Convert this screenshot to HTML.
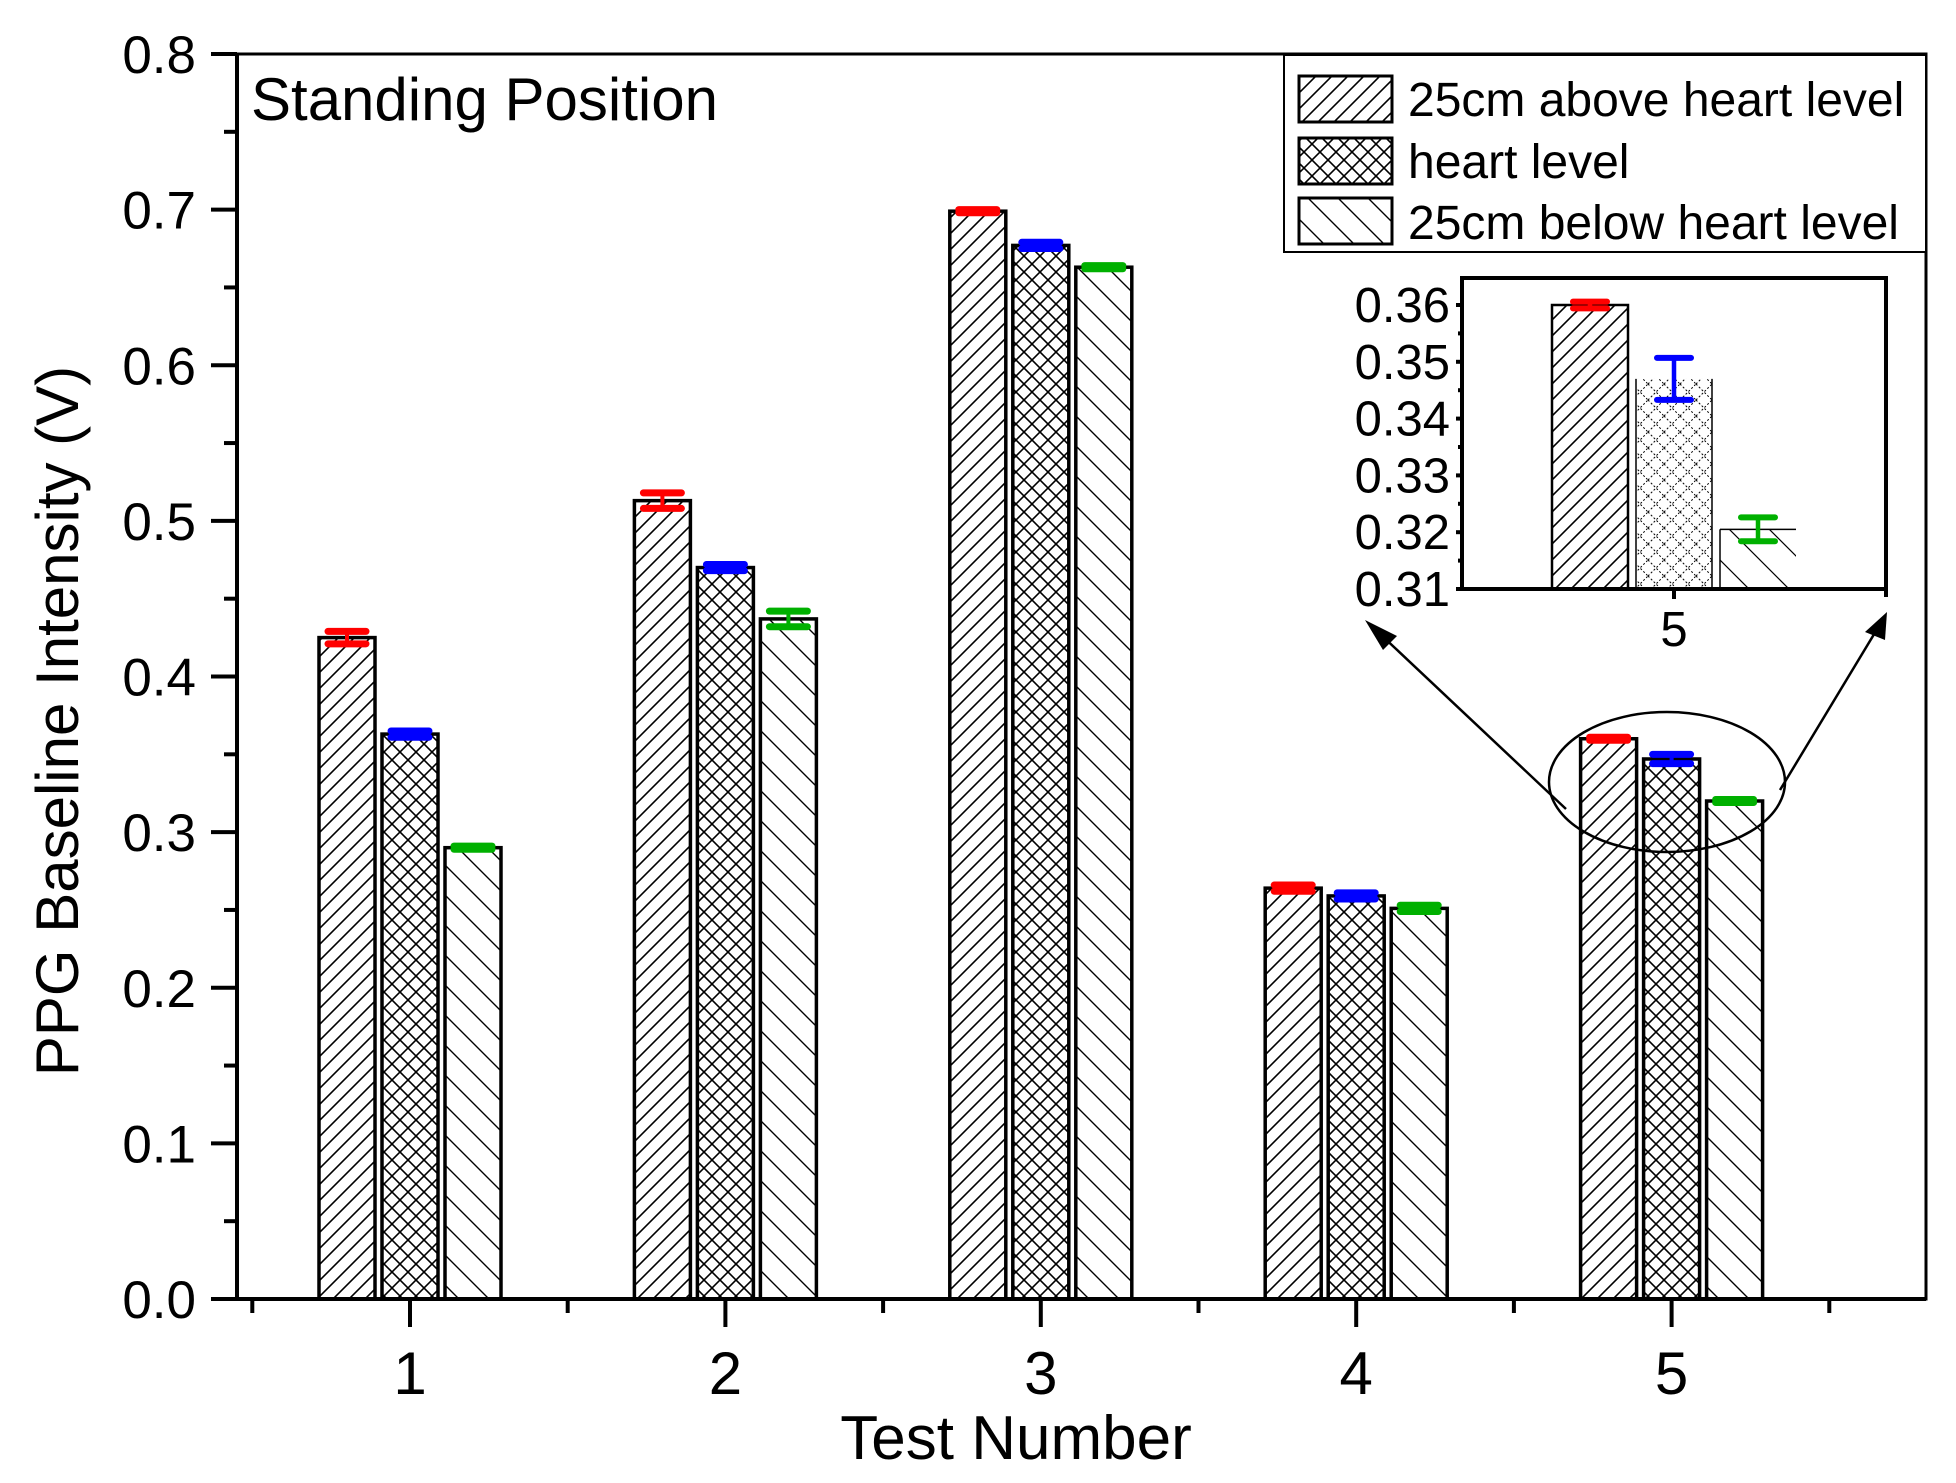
<!DOCTYPE html>
<html><head><meta charset="utf-8"><style>
html,body{margin:0;padding:0;background:#fff}
svg{display:block}
text{font-family:"Liberation Sans",Arial,sans-serif;fill:#000}
</style></head><body>
<svg id="chart" width="1956" height="1483" viewBox="0 0 1956 1483" xmlns="http://www.w3.org/2000/svg">
<defs>
<pattern id="pFwd" patternUnits="userSpaceOnUse" width="16" height="16"><path d="M-4,4 L4,-4 M0,16 L16,0 M12,20 L20,12" stroke="#000" stroke-width="1.6"/></pattern>
<pattern id="pCross" patternUnits="userSpaceOnUse" width="16" height="16"><path d="M0,16 L16,0 M0,0 L16,16" stroke="#000" stroke-width="1.6"/></pattern>
<pattern id="pBack" patternUnits="userSpaceOnUse" width="30" height="30"><path d="M-6,-6 L36,36 M-36,-6 L6,36 M24,-6 L66,36" stroke="#000" stroke-width="1.4"/></pattern>
<pattern id="pCrossDot" patternUnits="userSpaceOnUse" width="16" height="16"><path d="M0,16 L16,0 M0,0 L16,16" stroke="#000" stroke-width="1" stroke-dasharray="2,2"/></pattern>
<pattern id="pBackI" patternUnits="userSpaceOnUse" width="40" height="40"><path d="M-6,-6 L46,46 M-46,-6 L6,46 M34,-6 L86,46" stroke="#000" stroke-width="1.2"/></pattern>
</defs>
<g id="main"></g>
<g id="inset"></g>
</svg>
<script>
const categories = ["1","2","3","4","5"];
const seriesNames = ["25cm above heart level","heart level","25cm below heart level"];
const above = [0.425, 0.513, 0.699, 0.264, 0.360];
const heart = [0.363, 0.470, 0.677, 0.259, 0.347];
const below = [0.290, 0.437, 0.663, 0.251, 0.320];
const errAbove = [0.004, 0.005, 0.001, 0.002, 0.001];
const errHeart = [0.002, 0.002, 0.002, 0.002, 0.003];
const errBelow = [0.001, 0.005, 0.001, 0.002, 0.001];
const yTicks = ["0.0","0.1","0.2","0.3","0.4","0.5","0.6","0.7","0.8"];
const insetValues = [0.360, 0.347, 0.3205];
const insetErrors = [0.0006, 0.0037, 0.0021];
const insetTicks = ["0.31","0.32","0.33","0.34","0.35","0.36"];

const NS="http://www.w3.org/2000/svg";
function mk(parent,tag,attrs,txt){const e=document.createElementNS(NS,tag);for(const k in attrs)e.setAttribute(k,attrs[k]);if(txt!==undefined)e.textContent=txt;parent.appendChild(e);return e;}

const main=document.getElementById('main');
const X0=237,X1=1926,Y0=1299,Y1=54;
const SP=315.4;
const yScale=v=>Y0-(v/0.8)*(Y0-Y1);
const xCat=i=>410+i*SP;
const colors=["#ff0000","#0000ff","#00b000"];
const fills=["url(#pFwd)","url(#pCross)","url(#pBack)"];
const series=[above,heart,below];
const errs=[errAbove,errHeart,errBelow];

let fr=mk(main,'rect',{x:X0,y:Y1,width:X1-X0,height:Y0-Y1,fill:'none',stroke:'#000','stroke-width':3});

let xa=mk(main,'line',{x1:211,y1:Y0,x2:X1,y2:Y0,stroke:'#000','stroke-width':4});

let ya=mk(main,'line',{x1:X0,y1:Y1,x2:X0,y2:Y0,stroke:'#000','stroke-width':4});


yTicks.forEach((t,i)=>{
  const v=parseFloat(t);const y=yScale(v);
  mk(main,'line',{x1:211,y1:y,x2:X0,y2:y,stroke:'#000','stroke-width':4});
  if(i<yTicks.length-1){const ym=yScale(v+0.05);mk(main,'line',{x1:224,y1:ym,x2:X0,y2:ym,stroke:'#000','stroke-width':4});}
  const tl=mk(main,'text',{x:196,y:y+19,'font-size':53,'text-anchor':'end'},t);
  
});
categories.forEach((c,i)=>{
  const x=xCat(i);
  mk(main,'line',{x1:x,y1:Y0,x2:x,y2:1327,stroke:'#000','stroke-width':4});
  const xm=x-SP/2;mk(main,'line',{x1:xm,y1:Y0,x2:xm,y2:1313,stroke:'#000','stroke-width':4});
  const tl=mk(main,'text',{x:x,y:1394,'font-size':60,'text-anchor':'middle'},c);
  
});
mk(main,'line',{x1:xCat(4)+SP/2,y1:Y0,x2:xCat(4)+SP/2,y2:1313,stroke:'#000','stroke-width':4});

const BW=56,PITCH=63;
series.forEach((arr,s)=>{
  arr.forEach((v,i)=>{
    const cx=xCat(i)+(s-1)*PITCH;const y=yScale(v);
    const b=mk(main,'rect',{x:cx-BW/2,y:y,width:BW,height:Y0-y,fill:fills[s],stroke:'#000','stroke-width':3.5});
    
    
    const e=errs[s][i];const yt=yScale(v+e),yb=yScale(v-e);
    const g=mk(main,'g',{stroke:colors[s],'stroke-width':7,'stroke-linecap':'round'});
    
    mk(g,'line',{x1:cx-19,y1:yt,x2:cx+19,y2:yt});
    mk(g,'line',{x1:cx-19,y1:yb,x2:cx+19,y2:yb});
    mk(g,'line',{x1:cx,y1:yt,x2:cx,y2:yb,'stroke-width':4});
  });
});

let tt=mk(main,'text',{x:251,y:120,'font-size':60},'Standing Position');

let yt=mk(main,'text',{x:0,y:0,'font-size':60,'text-anchor':'middle',transform:'translate(78,721) rotate(-90)'},'PPG Baseline Intensity (V)');

let xt=mk(main,'text',{x:1016,y:1459,'font-size':62,'text-anchor':'middle'},'Test Number');


const lg=mk(main,'g',{});

mk(lg,'rect',{x:1284,y:55,width:642,height:197,fill:'#fff',stroke:'#000','stroke-width':2});
const swY=[76,138,198];const txY=[116,178,239];
seriesNames.forEach((n,s)=>{
  const le=mk(lg,'g',{});
  
  mk(le,'rect',{x:1299,y:swY[s],width:93,height:46,fill:fills[s],stroke:'#000','stroke-width':3});
  mk(le,'text',{x:1408,y:txY[s],'font-size':48},n);
});

const zo=mk(main,'g',{fill:'none',stroke:'#000','stroke-width':2.5});

mk(zo,'ellipse',{cx:1667,cy:782,rx:118,ry:70});
mk(zo,'line',{x1:1566,y1:809,x2:1378,y2:632});
mk(zo,'line',{x1:1780,y1:790,x2:1879,y2:626});
mk(main,'polygon',{points:'1365,620 1397,636 1383,650',fill:'#000'});
mk(main,'polygon',{points:'1887,612 1865,632 1885,640',fill:'#000'});

const ins=document.getElementById('inset');

const IX0=1462,IX1=1886,IY0=589,IY1=278;
const iy=v=>IY0-(v-0.31)/0.01*56.8;
mk(ins,'rect',{x:IX0,y:IY1,width:IX1-IX0,height:IY0-IY1,fill:'#fff',stroke:'none'});
const ifills=["url(#pFwd)","url(#pCrossDot)","url(#pBackI)"];
const IBW=76,IP=84,ICX=1674;
insetValues.forEach((v,s)=>{
  const cx=ICX+(s-1)*IP;const y=iy(v);
  const b=mk(ins,'rect',{x:cx-IBW/2,y:y,width:IBW,height:IY0-y,fill:ifills[s],stroke:s===0?'#000':'none','stroke-width':2.5});
  
  if(s>0){mk(ins,'line',{x1:cx-IBW/2,y1:y,x2:cx-IBW/2,y2:IY0,stroke:'#000','stroke-width':1.5});}
  if(s===2){mk(ins,'line',{x1:cx-IBW/2,y1:y,x2:cx+IBW/2,y2:y,stroke:'#000','stroke-width':1.5});}
  if(s===1){mk(ins,'line',{x1:cx+IBW/2,y1:y,x2:cx+IBW/2,y2:IY0,stroke:'#000','stroke-width':1.5});}
  const e=insetErrors[s];const t=iy(v+e),bt=iy(v-e);
  const g=mk(ins,'g',{stroke:colors[s],'stroke-width':6,'stroke-linecap':'round'});
  
  mk(g,'line',{x1:cx-17,y1:t,x2:cx+17,y2:t});
  mk(g,'line',{x1:cx-17,y1:bt,x2:cx+17,y2:bt});
  mk(g,'line',{x1:cx,y1:t,x2:cx,y2:bt,'stroke-width':4.5});
});
mk(ins,'rect',{x:IX0,y:IY1,width:IX1-IX0,height:IY0-IY1,fill:'none',stroke:'#000','stroke-width':4});
insetTicks.forEach((t,i)=>{
  const v=parseFloat(t);const y=iy(v);
  mk(ins,'line',{x1:IX0-6,y1:y,x2:IX0,y2:y,stroke:'#000','stroke-width':4});
  if(i<insetTicks.length-1){const ym=iy(v+0.005);mk(ins,'line',{x1:IX0-4,y1:ym,x2:IX0,y2:ym,stroke:'#000','stroke-width':4});}
  const l=mk(ins,'text',{x:1450,y:y+17,'font-size':49,'text-anchor':'end'},t);
  
});
mk(ins,'line',{x1:ICX,y1:IY0,x2:ICX,y2:IY0+10,stroke:'#000','stroke-width':4});
mk(ins,'line',{x1:IX1,y1:IY0,x2:IX1,y2:IY0+8,stroke:'#000','stroke-width':4});
const i5=mk(ins,'text',{x:ICX,y:646,'font-size':49,'text-anchor':'middle'},'5');

</script>
</body></html>
